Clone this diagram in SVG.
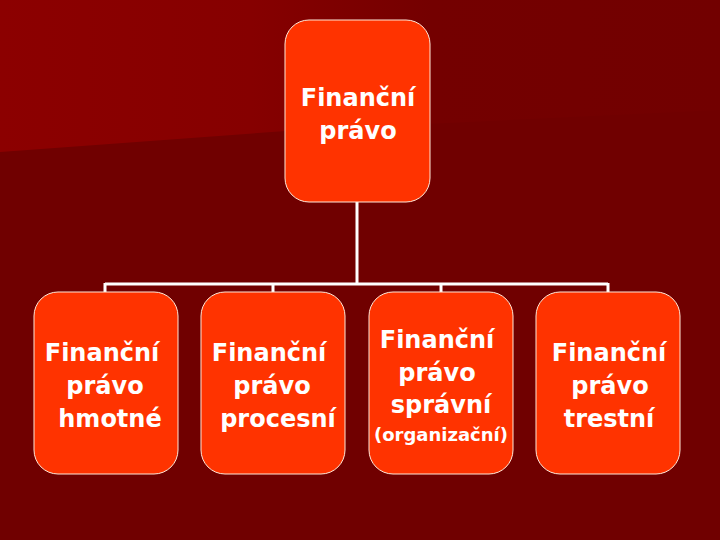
<svg xmlns="http://www.w3.org/2000/svg" width="720" height="540" viewBox="0 0 720 540">
<defs>
<linearGradient id="top" x1="0" y1="0" x2="720" y2="0" gradientUnits="userSpaceOnUse">
<stop offset="0" stop-color="#8c0000"/>
<stop offset="0.35" stop-color="#860000"/>
<stop offset="0.6" stop-color="#740000"/>
<stop offset="1" stop-color="#720000"/>
</linearGradient>
<style>
.node{fill:#ff3300;stroke:#ffe8d8;stroke-width:1}
.t{font-family:"DejaVu Sans",Verdana,sans-serif;font-weight:bold;font-size:24px;fill:#ffffff;text-anchor:middle}
.s{font-size:18px}
.c{stroke:#ffffff;stroke-width:3;fill:none}
</style>
</defs>
<rect width="720" height="540" fill="#700000"/>
<polygon points="0,0 720,0 720,110 300,130 0,152" fill="url(#top)"/>
<g id="connectors">
<path class="c" d="M357,202 V284 M105,284 H608 M105,283 V292 M273,283 V292 M441,283 V292 M608,283 V292"/>
</g>
<g id="root">
<rect class="node" x="285" y="20" width="145" height="182" rx="24"/>
<text class="t" x="358" y="106">Finanční</text>
<text class="t" x="358" y="139">právo</text>
</g>
<g id="hmotne">
<rect class="node" x="34" y="292" width="144" height="182" rx="24"/>
<text class="t" x="102" y="361">Finanční</text>
<text class="t" x="105" y="394">právo</text>
<text class="t" x="110" y="427">hmotné</text>
</g>
<g id="procesni">
<rect class="node" x="201" y="292" width="144" height="182" rx="24"/>
<text class="t" x="269" y="361">Finanční</text>
<text class="t" x="272" y="394">právo</text>
<text class="t" x="278" y="427">procesní</text>
</g>
<g id="spravni">
<rect class="node" x="369" y="292" width="144" height="182" rx="24"/>
<text class="t" x="437" y="348">Finanční</text>
<text class="t" x="437" y="381">právo</text>
<text class="t" x="441" y="413">správní</text>
<text class="t s" x="441" y="441">(organizační)</text>
</g>
<g id="trestni">
<rect class="node" x="536" y="292" width="144" height="182" rx="24"/>
<text class="t" x="609" y="361">Finanční</text>
<text class="t" x="610" y="394">právo</text>
<text class="t" x="609" y="427">trestní</text>
</g>
</svg>
